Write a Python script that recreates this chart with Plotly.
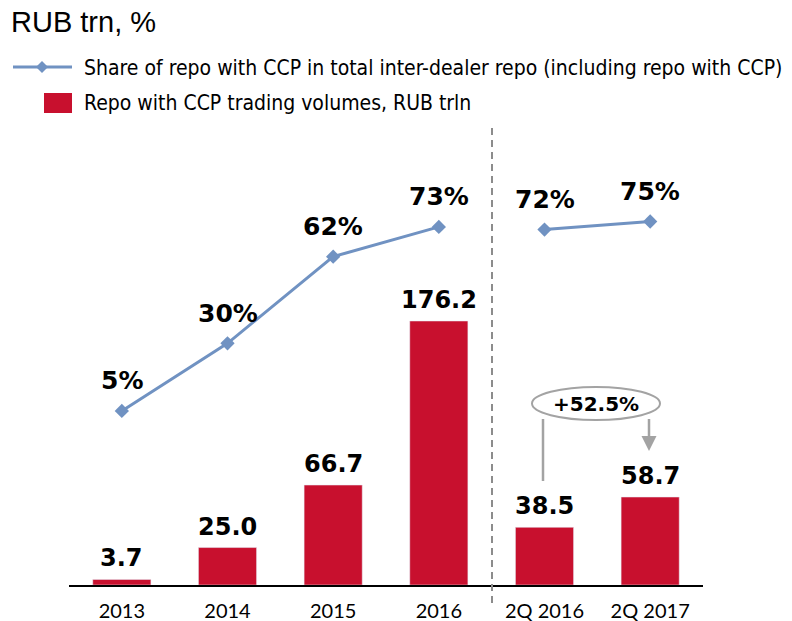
import plotly.graph_objects as go

# Categories and values
categories = ["2013", "2014", "2015", "2016", "2Q 2016", "2Q 2017"]
volumes = [3.7, 25.0, 66.7, 176.2, 38.5, 58.7]          # RUB trln
share_annual = [5, 30, 62, 73]                            # % (2013-2016)
share_quarter = [72, 75]                                  # % (2Q 2016, 2Q 2017)
growth_label = "+52.5%"

title_text = "RUB trn, %"
legend_line_text = "Share of repo with CCP in total inter-dealer repo (including repo with CCP)"
legend_bar_text = "Repo with CCP trading volumes, RUB trln"

BAR_COLOR = "#C8102E"
LINE_COLOR = "#7092C2"
GREY = "#A3A3A3"

W, H = 792, 621
ML, MR, MT, MB = 69, 89, 130, 36
PW, PH = W - ML - MR, H - MT - MB


def px(x):
    return (x - ML) / PW


def py(y):
    return (H - MB - y) / PH


fig = go.Figure()

fig.add_trace(go.Bar(
    x=categories, y=volumes, marker_color=BAR_COLOR, width=0.55,
    showlegend=False, yaxis="y",
))

line_style = dict(color=LINE_COLOR, width=3)
marker_style = dict(symbol="diamond", size=11, color=LINE_COLOR)
fig.add_trace(go.Scatter(
    x=categories[:4], y=share_annual, mode="lines+markers",
    line=line_style, marker=marker_style, showlegend=False, yaxis="y2",
))
fig.add_trace(go.Scatter(
    x=categories[4:], y=share_quarter, mode="lines+markers",
    line=line_style, marker=marker_style, showlegend=False, yaxis="y2",
))

annotations = []
bold = dict(family="DejaVu Sans", color="black", weight="bold")

# value labels above bars (x given as category index)
for i, v in enumerate(volumes):
    annotations.append(dict(
        x=i, y=v, xref="x", yref="y", text=f"{v:.1f}", showarrow=False,
        yanchor="middle", yshift=21, font=dict(size=24, **bold),
    ))

# share labels above line points
for i, v in enumerate(share_annual + share_quarter):
    annotations.append(dict(
        x=i, y=v, xref="x", yref="y2", text=f"{v}%", showarrow=False,
        yanchor="middle", yshift=30, font=dict(size=25, **bold),
    ))

# title
annotations.append(dict(
    x=px(9), y=py(22), xref="paper", yref="paper", text=title_text,
    showarrow=False, xanchor="left", yanchor="middle",
    font=dict(family="Liberation Sans", size=29, color="black"),
))

# legend texts
legend_font = dict(family="DejaVu Sans Condensed", size=21, color="black")
annotations.append(dict(
    x=px(82), y=py(68), xref="paper", yref="paper", text=legend_line_text,
    showarrow=False, xanchor="left", yanchor="middle", font=legend_font,
))
annotations.append(dict(
    x=px(82), y=py(103), xref="paper", yref="paper", text=legend_bar_text,
    showarrow=False, xanchor="left", yanchor="middle", font=legend_font,
))

# growth label inside the ellipse
annotations.append(dict(
    x=px(596), y=py(404), xref="paper", yref="paper", text=f"<b>{growth_label}</b>",
    showarrow=False, xanchor="center", yanchor="middle",
    font=dict(family="DejaVu Sans", size=20, color="black"),
))

shapes = []
# legend line sample with diamond
shapes.append(dict(type="line", xref="paper", yref="paper",
                   x0=px(13), x1=px(72), y0=py(67), y1=py(67),
                   line=dict(color=LINE_COLOR, width=3)))
dx, dy = 6, 6
cx, cy = 42, 67
shapes.append(dict(
    type="path", xref="paper", yref="paper",
    path=(f"M {px(cx - dx)},{py(cy)} L {px(cx)},{py(cy - dy)} "
          f"L {px(cx + dx)},{py(cy)} L {px(cx)},{py(cy + dy)} Z"),
    fillcolor=LINE_COLOR, line=dict(width=0),
))
# legend bar sample
shapes.append(dict(type="rect", xref="paper", yref="paper",
                   x0=px(44), x1=px(72), y0=py(113), y1=py(93),
                   fillcolor=BAR_COLOR, line=dict(width=0)))

# dashed separator between annual and quarterly data
shapes.append(dict(type="line", xref="paper", yref="paper",
                   x0=px(492), x1=px(492), y0=py(128), y1=py(604),
                   line=dict(color="#8C8C8C", width=2, dash="7px,5px")))

# growth ellipse and connectors
shapes.append(dict(type="circle", xref="paper", yref="paper",
                   x0=px(532), x1=px(660), y0=py(420), y1=py(387),
                   line=dict(color=GREY, width=2), fillcolor="white"))
shapes.append(dict(type="line", xref="paper", yref="paper",
                   x0=px(543), x1=px(543), y0=py(419), y1=py(481),
                   line=dict(color=GREY, width=2.5)))
shapes.append(dict(type="line", xref="paper", yref="paper",
                   x0=px(649), x1=px(649), y0=py(419), y1=py(438),
                   line=dict(color=GREY, width=2.5)))
shapes.append(dict(
    type="path", xref="paper", yref="paper",
    path=f"M {px(641.5)},{py(436)} L {px(656.5)},{py(436)} L {px(649)},{py(451)} Z",
    fillcolor=GREY, line=dict(width=0),
))

fig.update_layout(
    width=W, height=H,
    margin=dict(l=ML, r=MR, t=MT, b=MB, autoexpand=False),
    plot_bgcolor="white", paper_bgcolor="white",
    showlegend=False,
    xaxis=dict(
        type="category", categoryorder="array", categoryarray=categories,
        range=[-0.5, 5.5], autorange=False, automargin=False,
        showline=True, linecolor="black", linewidth=2,
        showgrid=False, zeroline=False, ticks="outside", ticklen=7,
        tickcolor="rgba(0,0,0,0)",
        tickfont=dict(family="Lato", size=20, color="black"),
    ),
    yaxis=dict(range=[0, 303.7], autorange=False, visible=False,
               showgrid=False, automargin=False),
    yaxis2=dict(range=[-59.3, 108.8], autorange=False, overlaying="y",
                visible=False, showgrid=False, automargin=False),
    annotations=annotations,
    shapes=shapes,
)

fig.write_html("out.html")
